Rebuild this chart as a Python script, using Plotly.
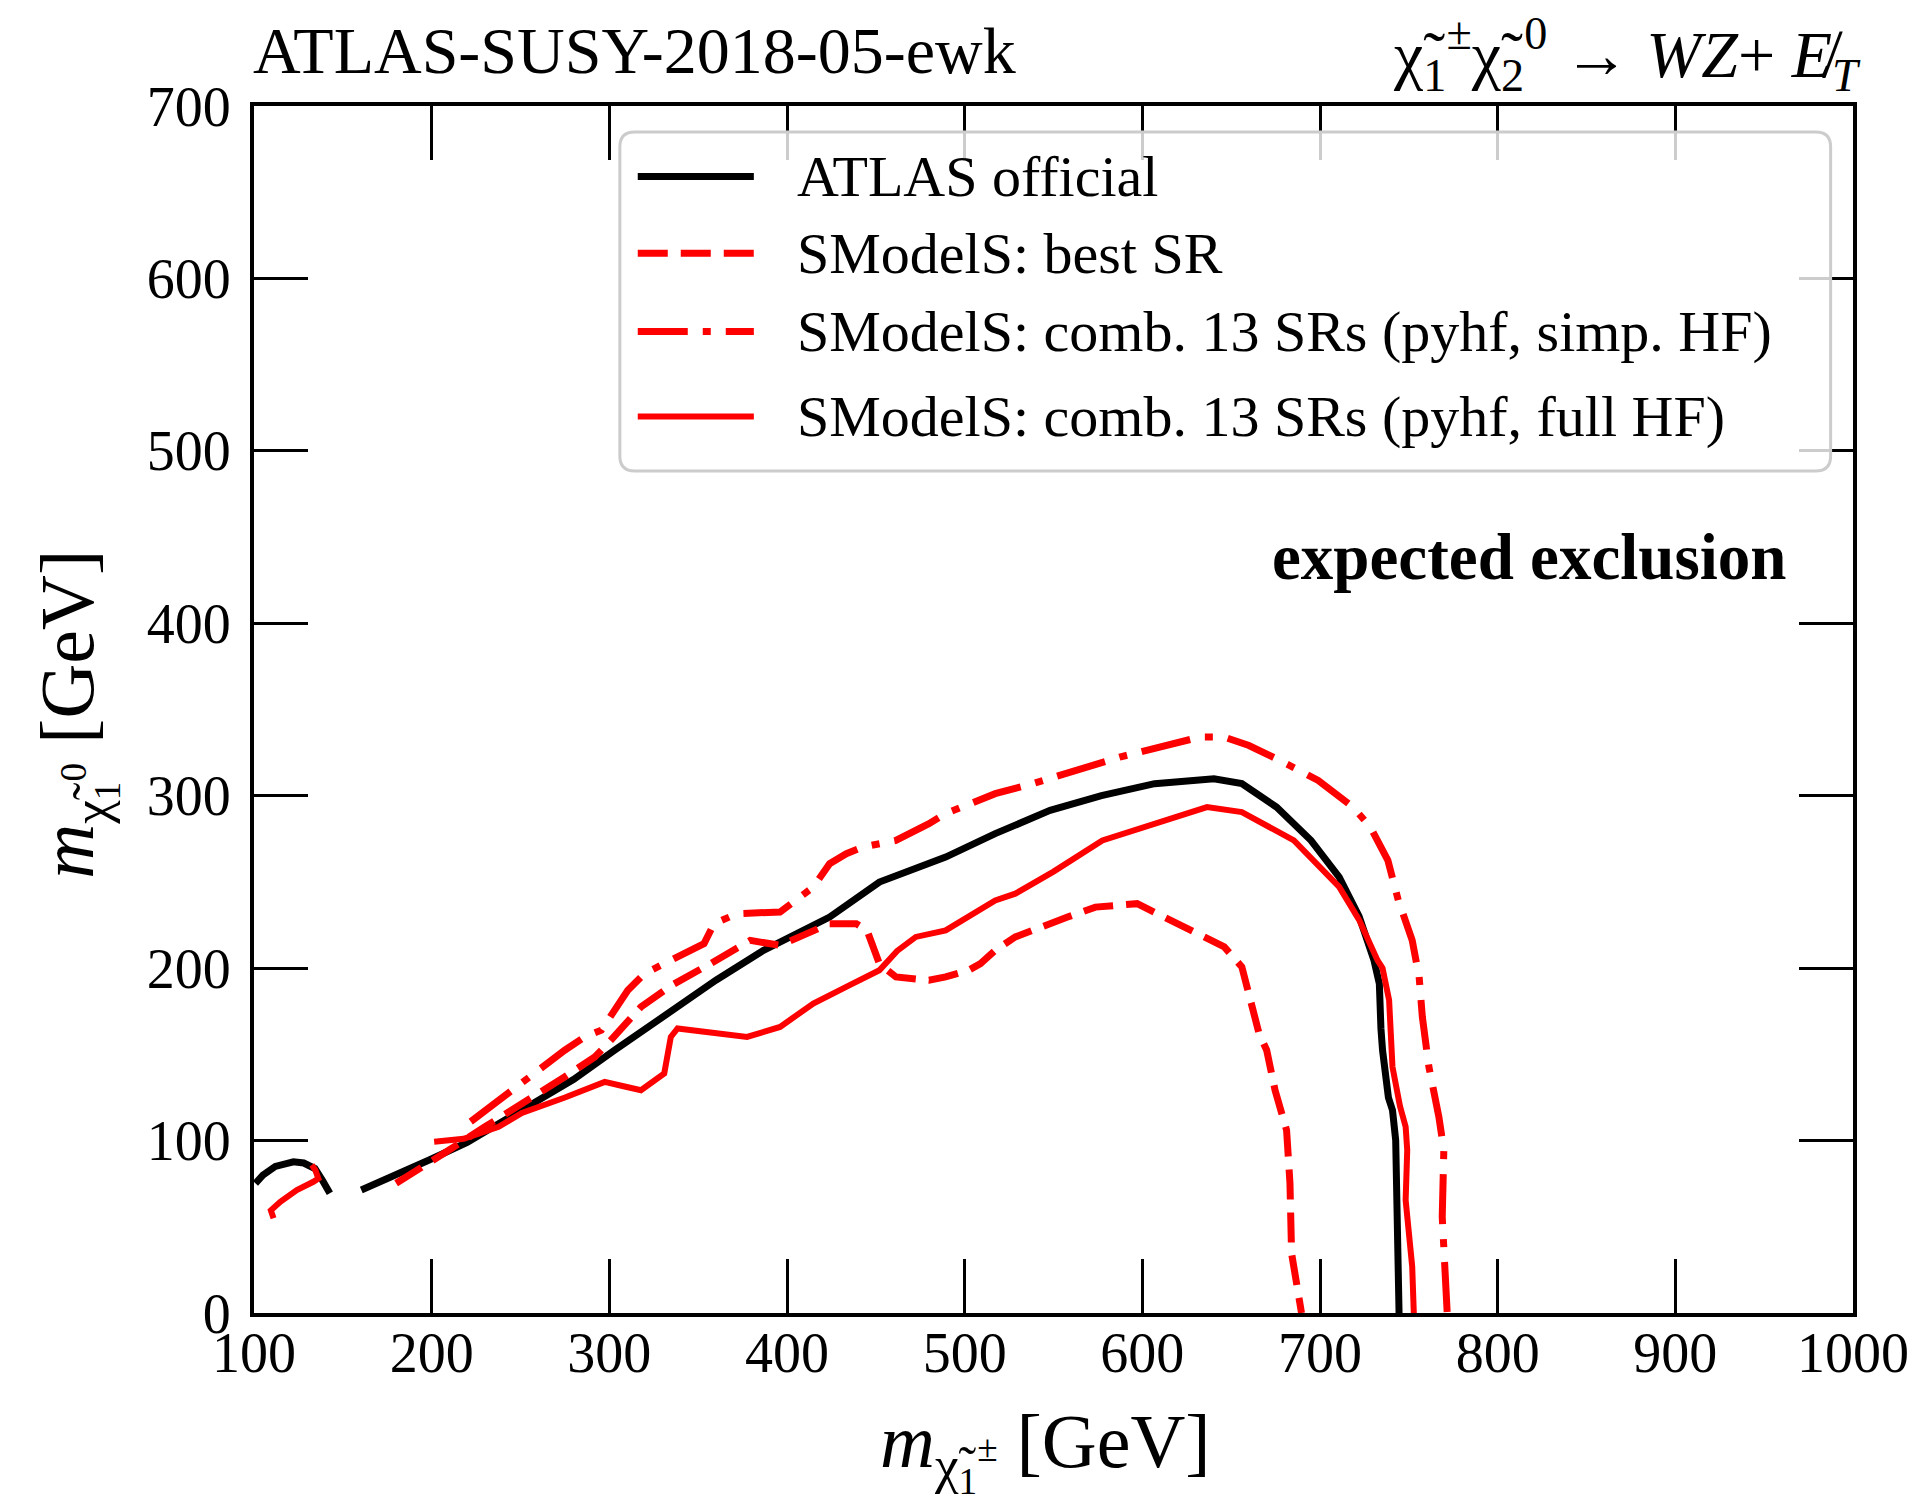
import plotly.graph_objects as go

# ---- exclusion contours (m_chargino, m_neutralino) in GeV; None separates branches ----
atlas_x = [100.8, 105, 112, 122.2, 128, 134.3, 138.5, 142.7, None,
           160.4, 180, 198.6, 220, 237.7, 254.5, 280, 303, 334.6, 360, 386.8, 424, 452,
           489.3, 517.2, 548.1, 577, 606.9, 640.3, 656, 675.5, 695, 710.8, 722, 730.4,
           733.4, 734.3, 735.2, 738.5, 740.8, 742.6, 743.6, 744.5]
atlas_y = [75.2, 80, 85, 87.7, 87, 83.8, 77, 69.4, None,
           71.3, 80, 88.7, 99, 109.9, 119.5, 135.5, 152.4, 175.6, 193, 210.3, 229.6, 249.9,
           264.4, 278, 291.5, 300, 307, 309.8, 307, 293.4, 274, 252.8, 230, 204.5,
           191, 165, 152.4, 125, 117.6, 100.2, 55.8, 0]

best_x = [180, 198.6, 209.8, 230, 254.5, 275, 291.8, 299.2, 317.8, 335, 356.9, 379.3, 396.1,
          424, 439, 445, 452, 461.3, 479.9, 489.3, 502.3, 508.9, 517.2, 528.5, 557.9, 573.6,
          597.1, 616.7, 646.1, 656, 660.7, 665.7, 670, 674.7, 681.2, 683.1, 684, 689.6]
best_y = [75.2, 86.7, 94.5, 108, 123.4, 137, 148.5, 156.3, 177.5, 190, 202.6, 216.1, 213.2,
          225.8, 225.8, 222, 202.6, 194.9, 193, 194.9, 198.8, 202.6, 210.3, 218.1, 229.6, 235.4,
          237.4, 227.7, 212.3, 200.7, 181.4, 162.1, 152.4, 129.2, 106, 75.2, 34.6, 0]

simp_x = [222, 237.7, 256.3, 274.9, 286.1, 295.5, 310.4, 319.7, 330.9, 353.3, 358.9, 371.9,
          396.1, 405.4, 414.8, 424, 433.4, 442.7, 461.3, 479.9, 489.3, 517.2, 538.3, 587.3,
          632.4, 646.1, 660, 677.5, 699, 718.6, 728.4, 738.2, 744.1, 751.9, 755.8, 757.6,
          761.3, 766.9, 769.7, 768.8, 771.6]
simp_y = [111, 123.4, 136.9, 152.4, 160.1, 164, 187.2, 196.8, 202.6, 214.2, 225.8, 231.6,
          232.6, 239.3, 247, 260.6, 266.4, 270.2, 274.1, 283.8, 289.6, 301.2, 307, 322.4,
          334, 334, 329.1, 320.4, 308.9, 293.4, 281.8, 262.5, 239.3, 216.1, 194.9, 171.7,
          142.7, 113.8, 94.5, 55.8, 0]

full_x = [111, 109.5, 114.8, 124.1, 133.4, 136.2, 134.5, 132.5, None,
          201.4, 212, 218, 237.7, 250.8, 275, 297.4, 308, 317.8, 330.9, 334.6, 338.4, 360,
          377.5, 396.1, 414.8, 435, 452, 462, 472.5, 489.3, 498.6, 517.2, 528.5, 550, 577.5,
          605, 636.4, 656, 685.3, 710.8, 722, 732.4, 735.2, 738.9, 740.8, 745, 748.2, 749.1,
          748.2, 751.9, 752.8]
full_y = [55, 59.5, 64.5, 71.3, 76.1, 78, 83, 85.8, None,
          99.3, 100, 101, 108, 116, 125, 134, 131.5, 129.2, 138.9, 160.1, 165, 162,
          160.1, 165.9, 179.5, 190, 198.8, 210, 218.1, 221.9, 227.7, 239.3, 243.2, 256, 274.1,
          283, 293.4, 290.5, 274.1, 247.1, 228, 204.5, 200, 181.4, 142.7, 120, 108, 94.5,
          65.5, 26.8, 0]

x_ticks = [100, 200, 300, 400, 500, 600, 700, 800, 900, 1000]
y_ticks = [0, 100, 200, 300, 400, 500, 600, 700]

FONT = "Liberation Serif"
RED = "#ff0000"
DASH = "30px,13px"
DASHDOT = "50px,15px,8px,15px"

series = [
    ("ATLAS official", atlas_x, atlas_y, "black", 7, "solid"),
    ("SModelS: best SR", best_x, best_y, RED, 7, DASH),
    ("SModelS: comb. 13 SRs (pyhf, simp. HF)", simp_x, simp_y, RED, 7, DASHDOT),
    ("SModelS: comb. 13 SRs (pyhf, full HF)", full_x, full_y, RED, 6, "solid"),
]

fig = go.Figure()
for name, xs, ys, col, w, dash in series:
    fig.add_trace(go.Scatter(x=xs, y=ys, mode="lines", name=name, showlegend=False,
                             connectgaps=False,
                             line=dict(color=col, width=w, dash=dash)))

axis_common = dict(showline=True, linecolor="black", linewidth=4, mirror="allticks",
                   ticks="inside", ticklen=54, tickwidth=2.5, tickcolor="black",
                   showgrid=False, zeroline=False,
                   tickfont=dict(family=FONT, size=56, color="black"))
fig.update_xaxes(range=[100, 1000], tickvals=x_ticks, ticktext=[str(v) for v in x_ticks],
                 ticklabelstandoff=-12, **axis_common)
fig.update_yaxes(range=[0, 700], tickvals=y_ticks, ticktext=[str(v) for v in y_ticks],
                 ticklabelstandoff=8, **axis_common)

# ---- legend drawn by hand (long line samples, rounded frame) ----
x0, x1, yb, yt = 0.2288, 0.9860, 0.6976, 0.9785
rx, ry = 0.0093, 0.0124
box_path = (f"M {x0+rx},{yt} L {x1-rx},{yt} Q {x1},{yt} {x1},{yt-ry} "
            f"L {x1},{yb+ry} Q {x1},{yb} {x1-rx},{yb} L {x0+rx},{yb} "
            f"Q {x0},{yb} {x0},{yb+ry} L {x0},{yt-ry} Q {x0},{yt} {x0+rx},{yt} Z")
shapes = [dict(type="path", xref="paper", yref="paper", path=box_path,
               fillcolor="rgba(255,255,255,0.8)", line=dict(color="#cccccc", width=3),
               layer="above")]
row_y = [0.9415, 0.8781, 0.8131, 0.7427]
annotations = []
for (name, _, _, col, w, dash), ry_ in zip(series, row_y):
    shapes.append(dict(type="line", xref="paper", yref="paper", x0=0.240, x1=0.3126,
                       y0=ry_, y1=ry_, line=dict(color=col, width=w, dash=dash),
                       layer="above"))
    annotations.append(dict(xref="paper", yref="paper", x=0.3384, y=ry_, text=name,
                            showarrow=False, xanchor="left", yanchor="middle",
                            font=dict(family=FONT, size=58, color="black")))

annotations += [
    dict(xref="paper", yref="paper", x=-0.0016, y=1.0456, text="ATLAS-SUSY-2018-05-ewk",
         showarrow=False, xanchor="left", yanchor="middle",
         font=dict(family=FONT, size=66, color="black")),
    dict(xref="paper", yref="paper", x=1.006, y=1.0423,
         text="χ̃<sub>1</sub><sup>±</sup>χ̃<sub>2</sub><sup>0</sup> → <i>WZ</i>+ <i>E̸</i><sub><i>T</i></sub>",
         showarrow=False, xanchor="right", yanchor="middle",
         font=dict(family=FONT, size=66, color="black")),
    dict(xref="paper", yref="paper", x=0.960, y=0.6263, text="<b>expected exclusion</b>",
         showarrow=False, xanchor="right", yanchor="middle",
         font=dict(family=FONT, size=65, color="black")),
    dict(xref="paper", yref="paper", x=0.495, y=-0.114,
         text="<i>m</i><sub>χ̃<sub>1</sub><sup>±</sup></sub> [GeV]",
         showarrow=False, xanchor="center", yanchor="middle",
         font=dict(family=FONT, size=76, color="black")),
    dict(xref="paper", yref="paper", x=-0.1109, y=0.4963, textangle=-90,
         text="<i>m</i><sub>χ̃<sub>1</sub><sup>0</sup></sub> [GeV]",
         showarrow=False, xanchor="center", yanchor="middle",
         font=dict(family=FONT, size=76, color="black")),
]

fig.update_layout(width=1921, height=1496, autosize=False,
                  margin=dict(l=254, r=57, t=106, b=183, pad=0),
                  paper_bgcolor="white", plot_bgcolor="white",
                  shapes=shapes, annotations=annotations, showlegend=False)

fig.write_html("out.html")
